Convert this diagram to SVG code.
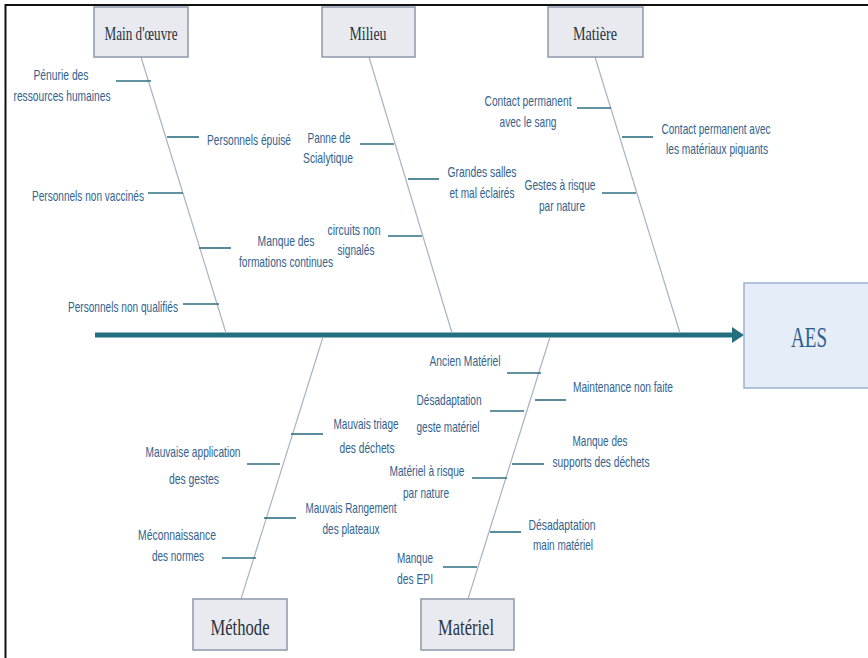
<svg xmlns="http://www.w3.org/2000/svg" width="868" height="658" viewBox="0 0 868 658">
<style>
.frame{stroke:#111;stroke-width:2;fill:none}
.cat rect{fill:#e8eaef;stroke:#8c98aa;stroke-width:1.5}
.cat text{font-family:"Liberation Serif","Times New Roman",serif;font-size:19px;fill:#2b3340;text-anchor:middle}
.bone{stroke:#a9b3c3;stroke-width:1.2;fill:none}
.tick{stroke:#2f6e80;stroke-width:1.6;fill:none}
.spine{stroke:#22707f;stroke-width:5;fill:none}
.lbl text{font-family:"Liberation Sans",Arial,sans-serif;font-size:15px;fill:#32628e;text-anchor:middle}
</style>
<defs>
<marker id="arr" viewBox="0 0 12 16" refX="1" refY="8" markerWidth="12" markerHeight="16" markerUnits="userSpaceOnUse" orient="auto">
<path d="M0,0 L12,8 L0,16 Z" fill="#22707f"/>
</marker>
</defs>
<rect width="868" height="658" fill="#fff"/>
<path class="frame" d="M5.5,658 V5 H868"/>

<g id="connectors">
<line class="spine" x1="95" y1="335" x2="733" y2="335" marker-end="url(#arr)"/>
<line class="bone" x1="141" y1="57" x2="226" y2="333"/>
<line class="bone" x1="369" y1="57" x2="452" y2="333"/>
<line class="bone" x1="595" y1="57" x2="680" y2="333"/>
<line class="bone" x1="323" y1="337" x2="241" y2="599"/>
<line class="bone" x1="550" y1="337" x2="468" y2="599"/>
<line class="tick" x1="116" y1="81" x2="151" y2="81"/>
<line class="tick" x1="167" y1="137" x2="199" y2="137"/>
<line class="tick" x1="148" y1="193" x2="183" y2="193"/>
<line class="tick" x1="199" y1="248" x2="231" y2="248"/>
<line class="tick" x1="183" y1="304" x2="219" y2="304"/>
<line class="tick" x1="360" y1="144" x2="394" y2="144"/>
<line class="tick" x1="408" y1="179" x2="439" y2="179"/>
<line class="tick" x1="388" y1="236" x2="422" y2="236"/>
<line class="tick" x1="577" y1="108" x2="611" y2="108"/>
<line class="tick" x1="622" y1="137" x2="653" y2="137"/>
<line class="tick" x1="602" y1="193" x2="636" y2="193"/>
<line class="tick" x1="291" y1="434" x2="323" y2="434"/>
<line class="tick" x1="247" y1="464" x2="280" y2="464"/>
<line class="tick" x1="264" y1="518" x2="296" y2="518"/>
<line class="tick" x1="222" y1="558" x2="256" y2="558"/>
<line class="tick" x1="507" y1="373" x2="541" y2="373"/>
<line class="tick" x1="535" y1="400" x2="566" y2="400"/>
<line class="tick" x1="490" y1="411" x2="524" y2="411"/>
<line class="tick" x1="512" y1="464" x2="544" y2="464"/>
<line class="tick" x1="472" y1="478" x2="507" y2="478"/>
<line class="tick" x1="490" y1="532" x2="521" y2="532"/>
<line class="tick" x1="443" y1="567" x2="477" y2="567"/>
</g>

<g id="cat-main-oeuvre" class="cat"><rect x="94" y="7" width="94" height="50"/><text x="141" y="40" textLength="73" lengthAdjust="spacingAndGlyphs">Main d'œuvre</text></g>
<g id="cat-milieu" class="cat"><rect x="322" y="7" width="93" height="50"/><text x="368" y="40" textLength="37" lengthAdjust="spacingAndGlyphs">Milieu</text></g>
<g id="cat-matiere" class="cat"><rect x="548" y="7" width="95" height="50"/><text x="595" y="40" textLength="44" lengthAdjust="spacingAndGlyphs">Matière</text></g>
<g id="cat-methode" class="cat"><rect x="193" y="599" width="94" height="51"/><text x="240" y="635" style="font-size:23px" textLength="59" lengthAdjust="spacingAndGlyphs">Méthode</text></g>
<g id="cat-materiel" class="cat"><rect x="421" y="599" width="93" height="51"/><text x="466" y="635" style="font-size:23px" textLength="56" lengthAdjust="spacingAndGlyphs">Matériel</text></g>

<g id="effect-aes"><rect x="744" y="283" width="130" height="105" fill="#e5edf8" stroke="#9ab2d2" stroke-width="1.5"/><text x="809" y="347" font-family="Liberation Serif,'Times New Roman',serif" font-size="30" fill="#2f5f8c" text-anchor="middle" textLength="36" lengthAdjust="spacingAndGlyphs">AES</text></g>

<g id="c-penurie" class="lbl"><text x="61" y="80" textLength="55" lengthAdjust="spacingAndGlyphs">Pénurie des</text><text x="62" y="101" textLength="97" lengthAdjust="spacingAndGlyphs">ressources humaines</text></g>
<g id="c-epuise" class="lbl"><text x="249" y="145" textLength="84" lengthAdjust="spacingAndGlyphs">Personnels épuisé</text></g>
<g id="c-non-vaccines" class="lbl"><text x="88" y="201" textLength="112" lengthAdjust="spacingAndGlyphs">Personnels non vaccinés</text></g>
<g id="c-formations" class="lbl"><text x="286" y="246" textLength="57" lengthAdjust="spacingAndGlyphs">Manque des</text><text x="286" y="267" textLength="94" lengthAdjust="spacingAndGlyphs">formations continues</text></g>
<g id="c-non-qualifies" class="lbl"><text x="123" y="312" textLength="110" lengthAdjust="spacingAndGlyphs">Personnels non qualifiés</text></g>

<g id="c-scialytique" class="lbl"><text x="329" y="143" textLength="43" lengthAdjust="spacingAndGlyphs">Panne de</text><text x="328" y="163" textLength="50" lengthAdjust="spacingAndGlyphs">Scialytique</text></g>
<g id="c-salles" class="lbl"><text x="482" y="177" textLength="69" lengthAdjust="spacingAndGlyphs">Grandes salles</text><text x="482" y="198" textLength="65" lengthAdjust="spacingAndGlyphs">et mal éclairés</text></g>
<g id="c-circuits" class="lbl"><text x="354" y="235" textLength="53" lengthAdjust="spacingAndGlyphs">circuits non</text><text x="356" y="255" textLength="37" lengthAdjust="spacingAndGlyphs">signalés</text></g>

<g id="c-sang" class="lbl"><text x="528" y="106" textLength="87" lengthAdjust="spacingAndGlyphs">Contact permanent</text><text x="528" y="127" textLength="57" lengthAdjust="spacingAndGlyphs">avec le sang</text></g>
<g id="c-piquants" class="lbl"><text x="716" y="134" textLength="109" lengthAdjust="spacingAndGlyphs">Contact permanent avec</text><text x="717" y="154" textLength="102" lengthAdjust="spacingAndGlyphs">les matériaux piquants</text></g>
<g id="c-gestes-risque" class="lbl"><text x="560" y="190" textLength="71" lengthAdjust="spacingAndGlyphs">Gestes à risque</text><text x="562" y="211" textLength="46" lengthAdjust="spacingAndGlyphs">par nature</text></g>

<g id="c-triage" class="lbl"><text x="366" y="429" textLength="65" lengthAdjust="spacingAndGlyphs">Mauvais triage</text><text x="367" y="453" textLength="55" lengthAdjust="spacingAndGlyphs">des déchets</text></g>
<g id="c-application" class="lbl"><text x="193" y="457" textLength="95" lengthAdjust="spacingAndGlyphs">Mauvaise application</text><text x="194" y="484" textLength="50" lengthAdjust="spacingAndGlyphs">des gestes</text></g>
<g id="c-rangement" class="lbl"><text x="351" y="513" textLength="91" lengthAdjust="spacingAndGlyphs">Mauvais Rangement</text><text x="351" y="534" textLength="57" lengthAdjust="spacingAndGlyphs">des plateaux</text></g>
<g id="c-normes" class="lbl"><text x="177" y="540" textLength="78" lengthAdjust="spacingAndGlyphs">Méconnaissance</text><text x="178" y="561" textLength="52" lengthAdjust="spacingAndGlyphs">des normes</text></g>

<g id="c-ancien" class="lbl"><text x="465" y="366" textLength="71" lengthAdjust="spacingAndGlyphs">Ancien Matériel</text></g>
<g id="c-maintenance" class="lbl"><text x="623" y="392" textLength="100" lengthAdjust="spacingAndGlyphs">Maintenance non faite</text></g>
<g id="c-desadapt-geste" class="lbl"><text x="449" y="405" textLength="65" lengthAdjust="spacingAndGlyphs">Désadaptation</text><text x="448" y="432" textLength="63" lengthAdjust="spacingAndGlyphs">geste matériel</text></g>
<g id="c-supports" class="lbl"><text x="600" y="446" textLength="55" lengthAdjust="spacingAndGlyphs">Manque des</text><text x="601" y="467" textLength="97" lengthAdjust="spacingAndGlyphs">supports des déchets</text></g>
<g id="c-materiel-risque" class="lbl"><text x="427" y="476" textLength="75" lengthAdjust="spacingAndGlyphs">Matériel à risque</text><text x="426" y="498" textLength="46" lengthAdjust="spacingAndGlyphs">par nature</text></g>
<g id="c-desadapt-main" class="lbl"><text x="562" y="530" textLength="67" lengthAdjust="spacingAndGlyphs">Désadaptation</text><text x="563" y="550" textLength="60" lengthAdjust="spacingAndGlyphs">main matériel</text></g>
<g id="c-epi" class="lbl"><text x="415" y="563" textLength="36" lengthAdjust="spacingAndGlyphs">Manque</text><text x="415" y="584" textLength="36" lengthAdjust="spacingAndGlyphs">des EPI</text></g>
</svg>
